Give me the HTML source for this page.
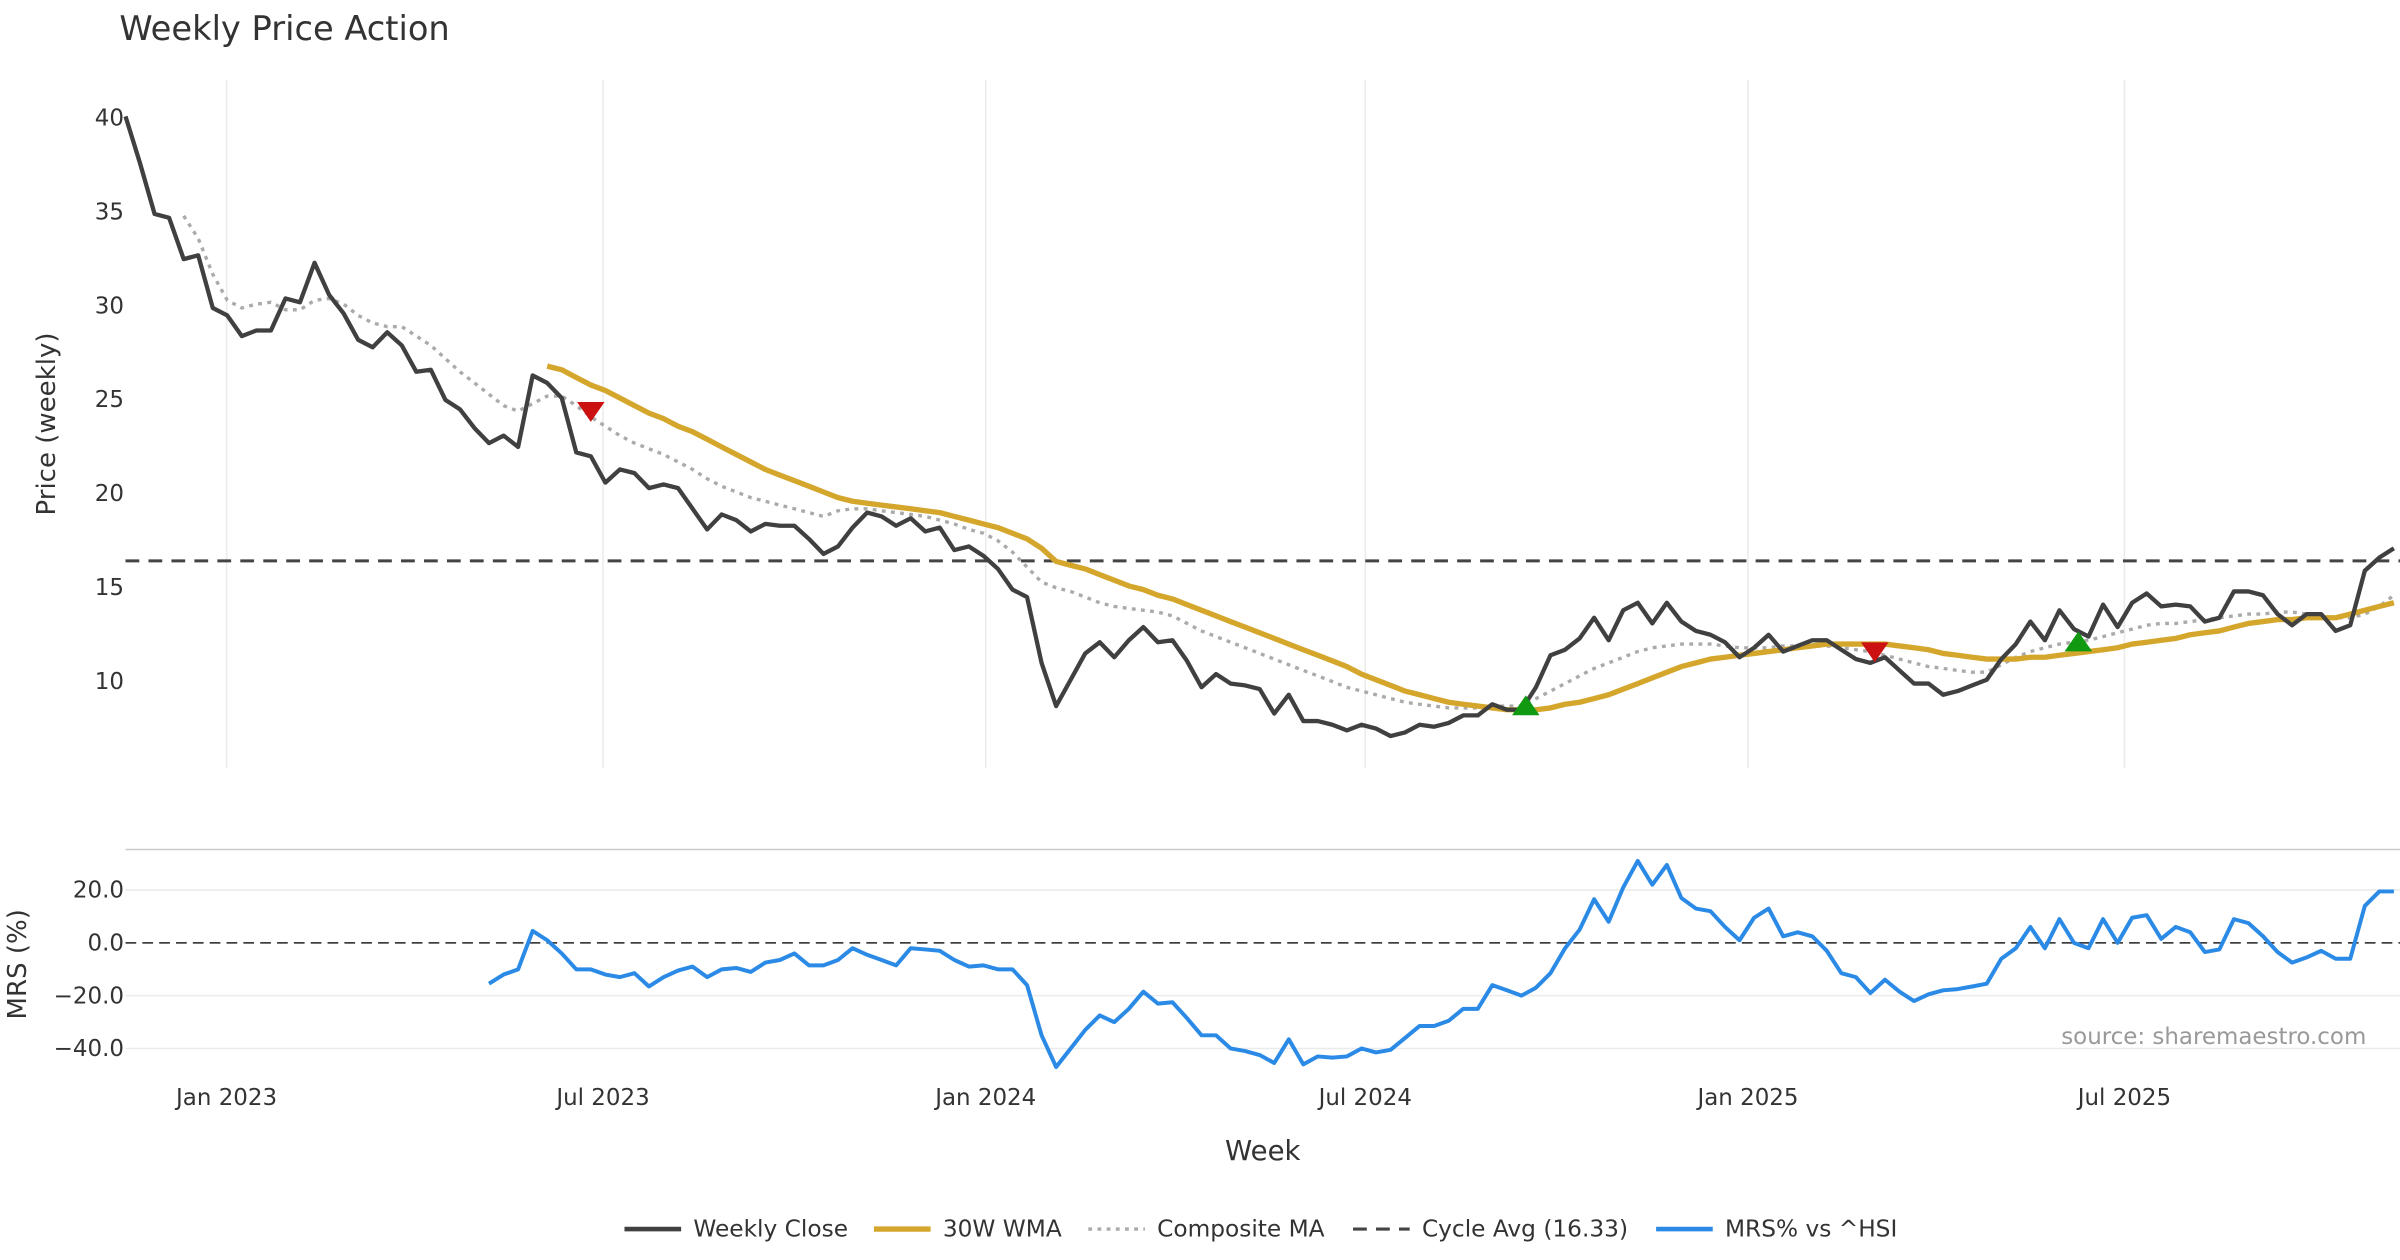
<!DOCTYPE html>
<html><head><meta charset="utf-8"><style>
html,body{margin:0;padding:0;background:#fff}
svg{display:block;font-family:"DejaVu Sans","Liberation Sans",sans-serif}
</style></head><body>
<svg id="chart" width="2400" height="1260" viewBox="0 0 1568 823.2" xmlns="http://www.w3.org/2000/svg">
<rect width="1568" height="823.2" fill="#fff"/>
<text x="78" y="26" font-size="22" fill="#333">Weekly Price Action</text>
<g id="grid"></g>
<g id="series"></g>
<g id="axes"></g>
<text transform="translate(36,277) rotate(-90)" text-anchor="middle" font-size="17" fill="#333">Price (weekly)</text>
<text transform="translate(17,630) rotate(-90)" text-anchor="middle" font-size="17" fill="#333">MRS (%)</text>
<text x="825" y="758" text-anchor="middle" font-size="18" fill="#333">Week</text>
<text x="1546" y="682" text-anchor="end" font-size="15" fill="#999">source: sharemaestro.com</text>
<g id="legend"></g>
</svg>
<script>
const closes=[40,37.5,34.8,34.6,32.4,32.6,29.8,29.4,28.3,28.6,28.6,30.3,30.1,32.2,30.5,29.5,28.1,27.7,28.5,27.8,26.4,26.5,24.9,24.4,23.4,22.6,23.0,22.4,26.2,25.8,25.0,22.1,21.9,20.5,21.2,21.0,20.2,20.4,20.2,19.1,18.0,18.8,18.5,17.9,18.3,18.2,18.2,17.5,16.7,17.1,18.1,18.9,18.7,18.2,18.6,17.9,18.1,16.9,17.1,16.6,15.9,14.8,14.4,10.9,8.6,10.0,11.4,12.0,11.2,12.1,12.8,12.0,12.1,11.0,9.6,10.3,9.8,9.7,9.5,8.2,9.2,7.8,7.8,7.6,7.3,7.6,7.4,7.0,7.2,7.6,7.5,7.7,8.1,8.1,8.7,8.4,8.4,9.6,11.3,11.6,12.2,13.3,12.1,13.7,14.1,13.0,14.1,13.1,12.6,12.4,12.0,11.2,11.7,12.4,11.5,11.8,12.1,12.1,11.6,11.1,10.9,11.2,10.5,9.8,9.8,9.2,9.4,9.7,10.0,11.1,11.9,13.1,12.1,13.7,12.7,12.3,14.0,12.8,14.1,14.6,13.9,14.0,13.9,13.1,13.3,14.7,14.7,14.5,13.5,12.9,13.5,13.5,12.6,12.9,15.8,16.5,17.0];
const wmaStart=29;
const wma=[26.7,26.5,26.1,25.7,25.4,25.0,24.6,24.2,23.9,23.5,23.2,22.8,22.4,22.0,21.6,21.2,20.9,20.6,20.3,20.0,19.7,19.5,19.4,19.3,19.2,19.1,19.0,18.9,18.7,18.5,18.3,18.1,17.8,17.5,17.0,16.3,16.1,15.9,15.6,15.3,15.0,14.8,14.5,14.3,14.0,13.7,13.4,13.1,12.8,12.5,12.2,11.9,11.6,11.3,11.0,10.7,10.3,10.0,9.7,9.4,9.2,9.0,8.8,8.7,8.6,8.5,8.4,8.4,8.4,8.5,8.7,8.8,9.0,9.2,9.5,9.8,10.1,10.4,10.7,10.9,11.1,11.2,11.3,11.4,11.5,11.6,11.7,11.8,11.9,11.9,11.9,11.9,11.9,11.8,11.7,11.6,11.4,11.3,11.2,11.1,11.1,11.1,11.2,11.2,11.3,11.4,11.5,11.6,11.7,11.9,12.0,12.1,12.2,12.4,12.5,12.6,12.8,13.0,13.1,13.2,13.2,13.3,13.3,13.3,13.5,13.7,13.9,14.1];
const compStart=4;
const comp=[34.7,33.5,31.6,30.2,29.8,30.0,30.1,29.7,29.7,30.2,30.3,30.0,29.4,29.0,28.8,28.8,28.3,27.8,27.1,26.4,25.8,25.2,24.6,24.3,24.7,25.1,25.1,24.6,24.0,23.5,23.0,22.6,22.3,22.0,21.6,21.2,20.7,20.3,20.0,19.7,19.5,19.3,19.1,18.9,18.7,19.0,19.1,19.1,19.0,18.9,18.8,18.7,18.5,18.3,18.0,17.8,17.4,16.8,16.0,15.2,14.9,14.7,14.4,14.1,13.9,13.8,13.7,13.6,13.4,13.0,12.6,12.3,12.0,11.7,11.4,11.1,10.8,10.5,10.2,9.9,9.6,9.4,9.2,9.0,8.8,8.7,8.6,8.5,8.5,8.5,8.6,8.6,8.6,9.0,9.4,9.8,10.2,10.6,10.9,11.2,11.5,11.7,11.8,11.9,11.9,11.9,11.8,11.7,11.7,11.7,11.8,11.8,11.8,11.8,11.7,11.6,11.5,11.3,11.1,10.9,10.7,10.6,10.5,10.4,10.4,10.8,11.2,11.5,11.7,11.9,12.0,12.1,12.3,12.5,12.7,12.9,13.0,13.0,13.1,13.2,13.3,13.4,13.5,13.5,13.6,13.6,13.5,13.4,13.3,13.3,13.5,13.9,14.5];
const mrsStart=25;
const mrs=[-15.5,-12,-10,4.5,1,-4,-10,-10,-12,-13,-11.5,-16.5,-13,-10.5,-9,-13,-10,-9.5,-11,-7.5,-6.5,-4,-8.5,-8.5,-6.5,-2,-4.5,-6.5,-8.5,-2,-2.5,-3,-6.5,-9,-8.5,-10,-10,-16,-35,-47,-40,-33,-27.5,-30,-25,-18.5,-23,-22.5,-28.5,-35,-35,-40,-41,-42.5,-45.5,-36.5,-46,-43,-43.5,-43,-40,-41.5,-40.5,-36,-31.5,-31.5,-29.5,-25,-25,-16,-18,-20,-17,-11.5,-2,5,16.5,8,21,31,22,29.5,17,13,12,6,1,9.5,13,2.5,4,2.5,-3,-11.5,-13,-19,-14,-18.5,-22,-19.5,-18,-17.5,-16.5,-15.5,-6,-2,6,-2,9,0,-2,9,0,9.5,10.5,1.5,6,4,-3.5,-2.5,9,7.5,2.5,-3.5,-7.5,-5.5,-3,-6,-6,14,19.5,19.5];
const cycleAvg=16.33;
const sellIdx=[32,120.3], sellVal=[24.3,11.5];
const buyIdx=[96.3,134.3], buyVal=[8.6,12.0];
const priceTicks=[10,15,20,25,30,35,40];
const mrsTicks=[-40,-20,0,20];
const mrsTickLabels=["\u221240.0","\u221220.0","0.0","20.0"];
const dateTickIdx=[6.95,32.84,59.16,85.26,111.58,137.47];
const dateTickLabels=["Jan 2023","Jul 2023","Jan 2024","Jul 2024","Jan 2025","Jul 2025"];

const NS="http://www.w3.org/2000/svg";
const X=i=>82+9.5*i;
const Y=v=>76+(40-v)*12.27;
const YM=v=>616-v*1.725;
function mk(tag,attrs,parent){const e=document.createElementNS(NS,tag);for(const k in attrs)e.setAttribute(k,attrs[k]);parent.appendChild(e);return e;}
const grid=document.getElementById('grid'),series=document.getElementById('series'),axes=document.getElementById('axes'),legend=document.getElementById('legend');

dateTickIdx.forEach((d,k)=>{
  const g=mk('line',{x1:X(d),x2:X(d),y1:52,y2:502,stroke:'#ebebeb','stroke-width':1},grid);
  
  
  const t=mk('text',{x:X(d),y:722,'text-anchor':'middle','font-size':15,fill:'#333'},axes);
  t.textContent=dateTickLabels[k];
  
  
});
priceTicks.forEach(v=>{
  const t=mk('text',{x:81,y:Y(v)+6,'text-anchor':'end','font-size':15,fill:'#333'},axes);
  t.textContent=v;
  
  
});
const sep=mk('line',{x1:82,x2:1568,y1:555,y2:555,stroke:'#ccc','stroke-width':1},grid);


mrsTicks.forEach((v,k)=>{
  const l=mk('line',{x1:82,x2:1568,y1:YM(v),y2:YM(v),stroke:v===0?'#222':'#ebebeb','stroke-width':1,'stroke-dasharray':v===0?'7,4':'none'},grid);
  
  
  const t=mk('text',{x:81,y:YM(v)+5,'text-anchor':'end','font-size':15,fill:'#333'},axes);
  t.textContent=mrsTickLabels[k];
  
  
});
const cyc=mk('line',{x1:82,x2:1568,y1:Y(cycleAvg),y2:Y(cycleAvg),stroke:'#444','stroke-width':2,'stroke-dasharray':'9,6'},series);



function path(arr,start,yf){return arr.map((v,j)=>(j?'L':'M')+X(start+j).toFixed(1)+','+yf(v).toFixed(1)).join(' ');}
const pc=mk('path',{d:path(comp,compStart,Y),fill:'none',stroke:'#aaa','stroke-width':2.2,'stroke-dasharray':'2.5,3.5'},series);


const pw=mk('path',{d:path(wma,wmaStart,Y),fill:'none',stroke:'#d4a72c','stroke-width':3.5,'stroke-linejoin':'round'},series);


const pcl=mk('path',{d:path(closes,0,Y),fill:'none',stroke:'#404040','stroke-width':2.8,'stroke-linejoin':'round'},series);


const pm=mk('path',{d:path(mrs,mrsStart,YM),fill:'none',stroke:'#2a8ae6','stroke-width':2.6,'stroke-linejoin':'round'},series);


sellIdx.forEach((i,k)=>{const x=X(i),y=Y(sellVal[k]);
  const p=mk('polygon',{points:`${x-9},${y-6} ${x+9},${y-6} ${x},${y+7}`,fill:'#cc1111'},series);
  
  });
buyIdx.forEach((i,k)=>{const x=X(i),y=Y(buyVal[k]);
  const p=mk('polygon',{points:`${x-9},${y+6} ${x+9},${y+6} ${x},${y-7}`,fill:'#119911'},series);
  
  });

const leg=[["Weekly Close",408,'#404040','none',3],["30W WMA",571,'#d4a72c','none',3.5],["Composite MA",711,'#aaa','2.5,3.5',2.2],["Cycle Avg (16.33)",884,'#444','9,6',2],["MRS% vs ^HSI",1082,'#2a8ae6','none',3]];
leg.forEach(l=>{
  const ln=mk('line',{x1:l[1],x2:l[1]+37,y1:803,y2:803,stroke:l[2],'stroke-width':l[4],'stroke-dasharray':l[3]},legend);
  
  
  const t=mk('text',{x:l[1]+45,y:808,'font-size':15.2,fill:'#333'},legend);
  t.textContent=l[0];
  
  
});
</script>
</body></html>
